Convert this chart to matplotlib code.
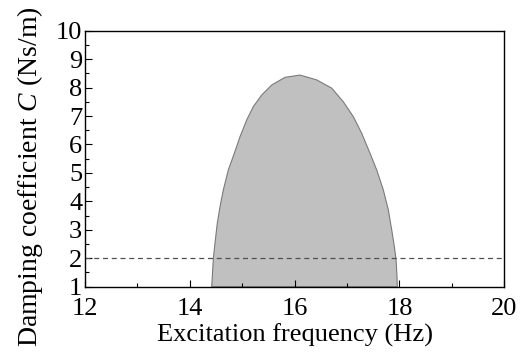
import matplotlib
matplotlib.use("Agg")
import matplotlib.pyplot as plt
from matplotlib.ticker import MultipleLocator

# boundary of the unstable region (left foot -> peak -> right foot)
freq_hz = [14.417, 14.429, 14.448, 14.480, 14.524, 14.576, 14.639, 14.734,
           14.849, 14.957, 15.085, 15.211, 15.372, 15.562, 15.816, 16.102,
           16.421, 16.707, 16.929, 17.119, 17.280, 17.438, 17.566, 17.692,
           17.787, 17.852, 17.902, 17.934, 17.953, 17.959]
damping_c = [1.00, 1.35, 1.97, 2.53, 3.23, 3.81, 4.40, 5.10,
             5.69, 6.27, 6.86, 7.33, 7.74, 8.09, 8.36, 8.44,
             8.27, 7.98, 7.50, 6.98, 6.39, 5.69, 5.10, 4.40,
             3.70, 3.00, 2.41, 1.97, 1.35, 1.00]
c_design = 2.0

plt.rcParams["font.family"] = "Liberation Serif"
plt.rcParams["mathtext.fontset"] = "custom"
plt.rcParams["mathtext.rm"] = "Liberation Serif"
plt.rcParams["mathtext.it"] = "Liberation Serif:italic"

fig = plt.figure(figsize=(5.24, 3.52), dpi=100)
ax = fig.add_axes([85 / 524, 1 - 286.7 / 352, 419.3 / 524, 256 / 352])

ax.fill(freq_hz, damping_c, facecolor="#c0c0c0", edgecolor="#7a7a7a", linewidth=0.8, zorder=1)
ax.axhline(c_design, color="#505050", linestyle=(0, (4, 3)), linewidth=0.9, zorder=2)

ax.set_xlim(12, 20)
ax.set_ylim(1, 10)
ax.xaxis.set_major_locator(MultipleLocator(2))
ax.xaxis.set_minor_locator(MultipleLocator(1))
ax.yaxis.set_major_locator(MultipleLocator(1))
ax.yaxis.set_minor_locator(MultipleLocator(0.5))
ax.tick_params(which="both", direction="in", top=False, right=False, labelsize=19)
ax.tick_params(axis="x", pad=8)
ax.tick_params(axis="y", pad=2)
ax.tick_params(which="major", length=5, width=0.8)
ax.tick_params(which="minor", length=3, width=0.8)
for s in ax.spines.values():
    s.set_linewidth(1.0)

ax.set_xlabel("Excitation frequency (Hz)", fontsize=19, labelpad=3)
ax.set_ylabel("Damping coefficient $C$ (Ns/m)", fontsize=20)
ax.yaxis.set_label_coords(-0.095, 0.43)

fig.savefig("out.png", dpi=100)
